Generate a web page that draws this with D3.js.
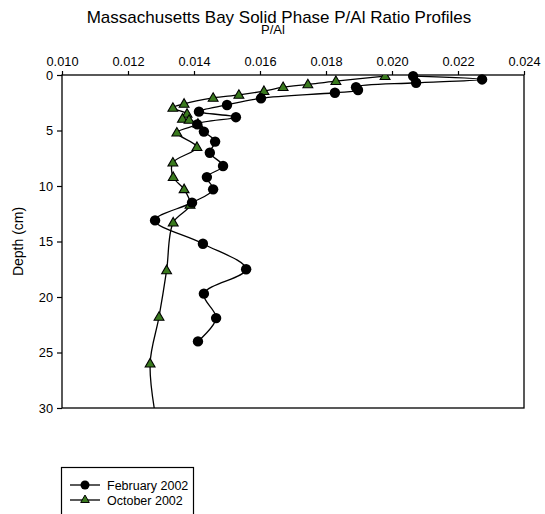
<!DOCTYPE html>
<html>
<head>
<meta charset="utf-8">
<script src="https://cdn.jsdelivr.net/npm/d3@7.9.0/dist/d3.min.js"></script>
<style>
  body { margin: 0; background: #fff; }
  svg { font-family: "Liberation Sans", Arial, sans-serif; }
</style>
</head>
<body>
<svg id="chart" width="545" height="514"></svg>
<script>
// February 2002 profile: P/Al ratio and depth (cm)
const febRatio = [0.02064, 0.02273, 0.02073, 0.01891, 0.01897, 0.01827, 0.01603, 0.01500,
  0.01415, 0.01527, 0.01410, 0.01430, 0.01464, 0.01448, 0.01488, 0.01439, 0.01458,
  0.01394, 0.01282, 0.01427, 0.01558, 0.01430, 0.01467, 0.01412];
const febDepth = [0.1, 0.4, 0.7, 1.1, 1.35, 1.6, 2.1, 2.7, 3.3, 3.8, 4.45, 5.1, 6.0, 7.0,
  8.2, 9.2, 10.3, 11.5, 13.1, 15.2, 17.5, 19.7, 21.9, 24.0];

// October 2002 profile (last point lies below the plot and is clipped)
const octRatio = [0.01979, 0.01830, 0.01745, 0.01670, 0.01612, 0.01536, 0.01458, 0.01370,
  0.01336, 0.01379, 0.01365, 0.01385, 0.01412, 0.01348, 0.01409, 0.01336, 0.01337,
  0.01370, 0.01388, 0.01337, 0.01317, 0.01294, 0.01267, 0.01288];
const octDepth = [0.1, 0.55, 0.85, 1.1, 1.45, 1.8, 2.07, 2.6, 2.97, 3.5, 3.95, 4.05, 4.4,
  5.2, 6.5, 7.9, 9.2, 10.3, 11.7, 13.3, 17.6, 21.8, 26.0, 31.5];

const xTicks = [0.010, 0.012, 0.014, 0.016, 0.018, 0.020, 0.022, 0.024];
const yTicks = [0, 5, 10, 15, 20, 25, 30];
const seriesNames = ["February 2002", "October 2002"];

const svg = d3.select("#chart");
const pLeft = 62, pRight = 524, pTop = 75, pBottom = 408;

const x = d3.scaleLinear().domain([0.010, 0.024]).range([pLeft, pRight]);
const y = d3.scaleLinear().domain([0, 30]).range([pTop, pBottom]);

// title (the axis title overlaps it in the original too)
svg.append("text")
  .attr("x", 279).attr("y", 23)
  .attr("text-anchor", "middle")
  .attr("font-size", 17)
  .text("Massachusetts Bay Solid Phase P/Al Ratio Profiles");

svg.append("text")
  .attr("x", 273).attr("y", 34)
  .attr("text-anchor", "middle")
  .attr("font-size", 13)
  .text("P/Al");

// frame
svg.append("rect")
  .attr("x", pLeft).attr("y", pTop)
  .attr("width", pRight - pLeft).attr("height", pBottom - pTop)
  .attr("fill", "none").attr("stroke", "#000").attr("stroke-width", 1.3);

// top axis
const xAxis = svg.append("g")
  .attr("transform", `translate(0,${pTop})`)
  .call(d3.axisTop(x).tickValues(xTicks).tickFormat(d3.format(".3f")).tickSize(4).tickPadding(5));

// left axis
const yAxis = svg.append("g")
  .attr("transform", `translate(${pLeft},0)`)
  .call(d3.axisLeft(y).tickValues(yTicks).tickSize(5).tickPadding(4));

[xAxis, yAxis].forEach(g => {
  g.select(".domain").remove();
  g.selectAll("line").attr("stroke", "#000").attr("stroke-width", 1.2);
  g.selectAll("text").attr("font-size", 12.8).attr("fill", "#000")
    .attr("font-family", "Liberation Sans, Arial, sans-serif");
});

svg.append("text")
  .attr("transform", `translate(23,${(pTop + pBottom) / 2}) rotate(-90)`)
  .attr("text-anchor", "middle")
  .attr("font-size", 14)
  .text("Depth (cm)");

// clip
svg.append("clipPath").attr("id", "plotclip")
  .append("rect").attr("x", pLeft).attr("y", pTop)
  .attr("width", pRight - pLeft).attr("height", pBottom - pTop);

const line = d3.line()
  .x(d => x(d[0])).y(d => y(d[1]))
  .curve(d3.curveCatmullRom.alpha(0.5));

const feb = febRatio.map((v, i) => [v, febDepth[i]]);
const oct = octRatio.map((v, i) => [v, octDepth[i]]);

const plot = svg.append("g").attr("clip-path", "url(#plotclip)");

plot.append("path").datum(oct)
  .attr("d", line).attr("fill", "none").attr("stroke", "#000").attr("stroke-width", 1.3);
plot.append("path").datum(feb)
  .attr("d", line).attr("fill", "none").attr("stroke", "#000").attr("stroke-width", 1.3);

const tri = d3.symbol().type(d3.symbolTriangle).size(42);

plot.selectAll(".oct").data(oct.filter(d => d[1] <= 30)).join("path")
  .attr("class", "oct")
  .attr("d", tri)
  .attr("transform", d => `translate(${x(d[0])},${y(d[1]) + 0.5})`)
  .attr("fill", "#3a7a1e").attr("stroke", "#000").attr("stroke-width", 1.1);

svg.selectAll(".feb").data(feb).join("circle")
  .attr("class", "feb")
  .attr("cx", d => x(d[0])).attr("cy", d => y(d[1]))
  .attr("r", 5.2).attr("fill", "#000");

// legend
const lg = svg.append("g");
lg.append("rect")
  .attr("x", 61.5).attr("y", 467.5).attr("width", 132).attr("height", 60)
  .attr("fill", "#fff").attr("stroke", "#000").attr("stroke-width", 1.2);

seriesNames.forEach((name, i) => {
  const yy = 485 + i * 15;
  lg.append("line").attr("x1", 70).attr("x2", 100).attr("y1", yy).attr("y2", yy)
    .attr("stroke", "#000").attr("stroke-width", 1.3);
  if (i === 0) {
    lg.append("circle").attr("cx", 85).attr("cy", yy).attr("r", 4.5).attr("fill", "#000");
  } else {
    lg.append("path").attr("d", d3.symbol().type(d3.symbolTriangle).size(32))
      .attr("transform", `translate(85,${yy})`)
      .attr("fill", "#3a7a1e").attr("stroke", "#000").attr("stroke-width", 1);
  }
  lg.append("text").attr("x", 107).attr("y", yy + 4.5)
    .attr("font-size", 12.5).text(name);
});
</script>
</body>
</html>
